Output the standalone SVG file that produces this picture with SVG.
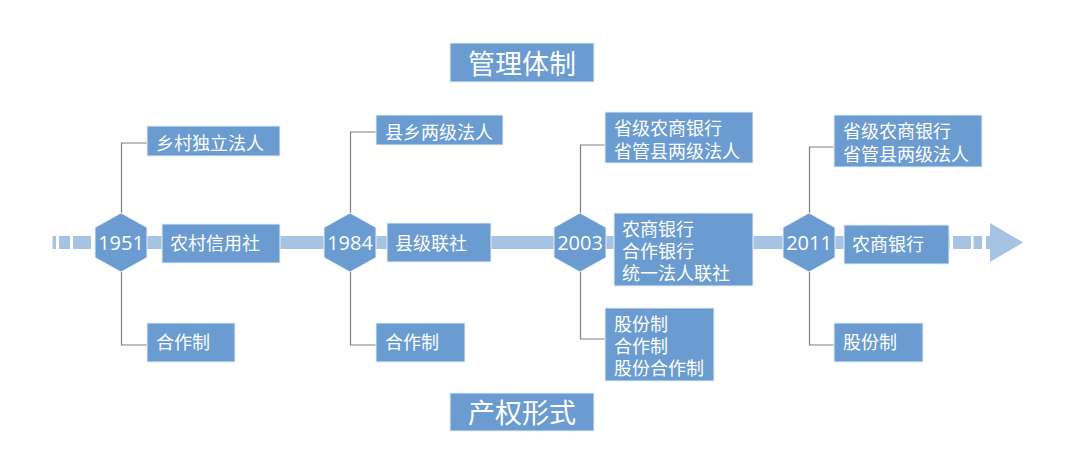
<svg xmlns="http://www.w3.org/2000/svg" width="1080" height="454" viewBox="0 0 1080 454">
<style>
.box{fill:#6a9bd1;stroke:#e8f0f8;stroke-width:1}
.hex{fill:#6a9bd1;stroke:#e8f0f8;stroke-width:1}
.bar{fill:#a6c3e4}
.lbl{font-family:"Noto Sans CJK SC","Noto Sans",sans-serif;font-size:18px;fill:#ffffff;dominant-baseline:central}
.ttl{font-family:"Noto Sans CJK SC","Noto Sans",sans-serif;font-size:27px;fill:#ffffff;dominant-baseline:central;text-anchor:middle}
.yr{font-family:"Open Sans","Noto Sans",sans-serif;font-size:20px;fill:#ffffff;dominant-baseline:central;text-anchor:middle}
.ln{fill:none;stroke:#7f7f7f;stroke-width:1.2}
</style>
<rect width="1080" height="454" fill="#ffffff"/>
<g id="timeline">
<rect class="bar" x="52.5" y="236" width="3.5" height="13"/>
<rect class="bar" x="59" y="236" width="11" height="13"/>
<rect class="bar" x="73" y="236" width="18" height="13"/>
<rect class="bar" x="95" y="236" width="855" height="13"/>
<rect class="bar" x="953" y="236" width="18" height="13"/>
<rect class="bar" x="973.5" y="236" width="8.5" height="13"/>
<polygon class="bar" points="986,236 990,236 990,223 1023,242.5 990,262 990,249 986,249"/>
</g>
<g id="connectors">
<polyline class="ln" points="121.5,213 121.5,143 147,143"/>
<polyline class="ln" points="121.5,272 121.5,345 147,345"/>
<polyline class="ln" points="350.5,213 350.5,132 376,132"/>
<polyline class="ln" points="350.5,272 350.5,345 376,345"/>
<polyline class="ln" points="580.5,213 580.5,145 605,145"/>
<polyline class="ln" points="580.5,272 580.5,339 605,339"/>
<polyline class="ln" points="809.5,213 809.5,147 834,147"/>
<polyline class="ln" points="809.5,272 809.5,345 834,345"/>
</g>
<g id="title-mgmt"><rect class="box" x="450" y="43" width="144" height="39"/><text class="ttl" x="522" y="62">管理体制</text></g>
<g id="title-prop"><rect class="box" x="450" y="393" width="144" height="38"/><text class="ttl" x="522" y="411.5">产权形式</text></g>

<g id="y1951"><polygon class="hex" points="121,213 147,227.5 147,257.5 121,272 95,257.5 95,227.5"/><text class="yr" x="121" y="242">1951</text></g>
<g id="n1951-top"><rect class="box" x="147" y="126" width="133" height="30"/><text class="lbl" x="156" y="141.5">乡村独立法人</text></g>
<g id="n1951-mid"><rect class="box" x="162" y="224" width="118" height="39"/><text class="lbl" x="170" y="242">农村信用社</text></g>
<g id="n1951-bot"><rect class="box" x="147" y="323" width="88" height="39"/><text class="lbl" x="156" y="341">合作制</text></g>

<g id="y1984"><polygon class="hex" points="350,213 376,227.5 376,257.5 350,272 324,257.5 324,227.5"/><text class="yr" x="350" y="242">1984</text></g>
<g id="n1984-top"><rect class="box" x="376" y="115" width="127" height="30"/><text class="lbl" x="385" y="130.5">县乡两级法人</text></g>
<g id="n1984-mid"><rect class="box" x="387" y="223" width="104" height="39"/><text class="lbl" x="395" y="241.5">县级联社</text></g>
<g id="n1984-bot"><rect class="box" x="376" y="323" width="89" height="39"/><text class="lbl" x="385" y="341">合作制</text></g>

<g id="y2003"><polygon class="hex" points="580,213 606,227.5 606,257.5 580,272 554,257.5 554,227.5"/><text class="yr" x="580" y="242">2003</text></g>
<g id="n2003-top"><rect class="box" x="605" y="112" width="148" height="51"/><text class="lbl" x="614" y="127">省级农商银行</text><text class="lbl" x="614" y="150">省管县两级法人</text></g>
<g id="n2003-mid"><rect class="box" x="614" y="213" width="139" height="73"/><text class="lbl" x="622" y="228">农商银行</text><text class="lbl" x="622" y="250">合作银行</text><text class="lbl" x="622" y="272">统一法人联社</text></g>
<g id="n2003-bot"><rect class="box" x="605" y="308" width="109" height="73"/><text class="lbl" x="614" y="323">股份制</text><text class="lbl" x="614" y="345">合作制</text><text class="lbl" x="614" y="367">股份合作制</text></g>

<g id="y2011"><polygon class="hex" points="809,213 835,227.5 835,257.5 809,272 783,257.5 783,227.5"/><text class="yr" x="809" y="242">2011</text></g>
<g id="n2011-top"><rect class="box" x="834" y="115" width="148" height="52"/><text class="lbl" x="843" y="130">省级农商银行</text><text class="lbl" x="843" y="153">省管县两级法人</text></g>
<g id="n2011-mid"><rect class="box" x="844" y="225" width="105" height="39"/><text class="lbl" x="852" y="243">农商银行</text></g>
<g id="n2011-bot"><rect class="box" x="834" y="323" width="89" height="39"/><text class="lbl" x="843" y="341">股份制</text></g>
</svg>
